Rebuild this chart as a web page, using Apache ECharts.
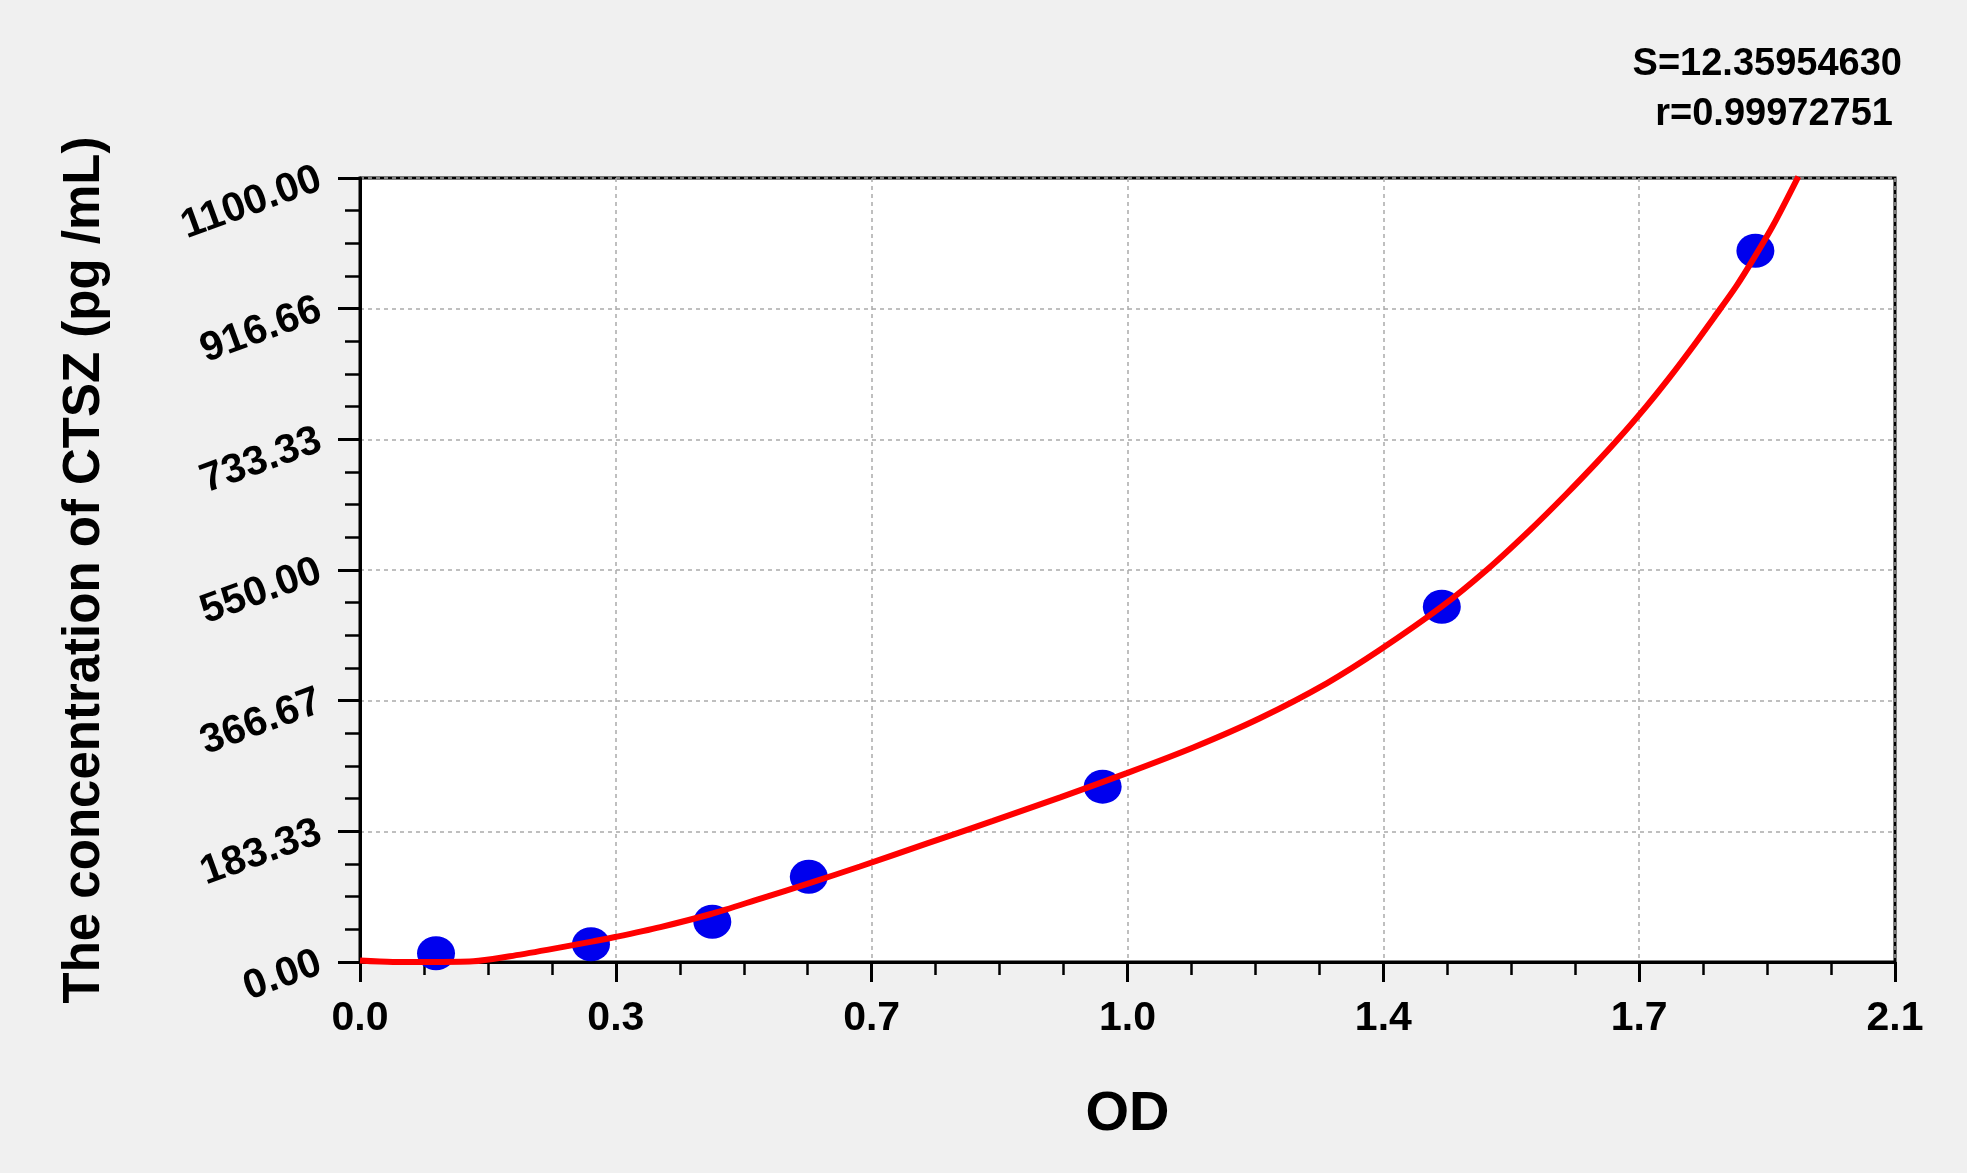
<!DOCTYPE html>
<html>
<head>
<meta charset="utf-8">
<script src="https://cdn.jsdelivr.net/npm/echarts@6/dist/echarts.min.js"></script>
<style>
html,body{margin:0;padding:0;background:#f0f0f0;}
#chart{width:1967px;height:1173px;}
</style>
</head>
<body>
<div id="chart"></div>
<script>
// Standard points (OD, concentration)
const pointOD   = [0.104, 0.316, 0.482, 0.614, 1.016, 1.480, 1.909];
const pointConc = [12.2, 24.8, 56.5, 119.7, 246, 498.5, 998];

// Fitted curve
const curveOD   = [0, 0.045, 0.092, 0.155, 0.205, 0.256, 0.319, 0.349, 0.411, 0.479, 0.548, 0.616, 0.684, 0.775, 0.866, 0.958, 1.049, 1.140, 1.231, 1.3225, 1.3955, 1.4797, 1.5413, 1.6006, 1.6508, 1.692, 1.7206, 1.7601, 1.7922, 1.8196, 1.8515, 1.8834, 1.9084, 1.9335, 1.9677];
const curveConc = [2, 0, 0, 1, 8, 17, 29, 35, 49, 67, 89, 111, 134, 166, 198, 231, 265, 301, 342, 391, 438, 498.5, 550, 606, 657, 701, 733, 780, 821, 858, 903, 949, 990, 1034, 1102];

// Tick labels
const xTickLabels = ["0.0", "0.3", "0.7", "1.0", "1.4", "1.7", "2.1"];
const yTickLabels = ["0.00", "183.33", "366.67", "550.00", "733.33", "916.66", "1100.00"];

const statS = "S=12.35954630";
const statR = "r=0.99972751";

const xInterval = 0.35, yInterval = 1100 / 6;

const chart = echarts.init(document.getElementById('chart'));
const font = "'Liberation Sans', Arial, sans-serif";

chart.setOption({
  backgroundColor: '#f0f0f0',
  animation: false,
  grid: {
    left: 360, right: 72, top: 178, bottom: 211,
    show: true, backgroundColor: '#ffffff', borderColor: '#000', borderWidth: 3
  },
  xAxis: {
    type: 'value', min: 0, max: 2.1, interval: xInterval,
    name: 'OD', nameLocation: 'middle', nameGap: 125,
    nameTextStyle: { fontFamily: font, fontWeight: 'bold', fontSize: 56, color: '#000' },
    axisLine: { show: true, onZero: false, lineStyle: { color: '#000', width: 3 } },
    axisTick: { show: true, inside: false, length: 20, lineStyle: { color: '#000', width: 3 } },
    minorTick: { show: true, splitNumber: 4, length: 13, lineStyle: { color: '#000', width: 2.5 } },
    splitLine: { show: true, lineStyle: { color: '#aaaaaa', type: [4, 4], width: 1.5 } },
    axisLabel: {
      margin: 36, fontFamily: font, fontWeight: 'bold', fontSize: 41, color: '#000',
      formatter: v => xTickLabels[Math.round(v / xInterval)] ?? ''
    }
  },
  yAxis: {
    type: 'value', min: 0, max: 1100, interval: yInterval,
    name: 'The concentration of CTSZ (pg /mL)', nameLocation: 'middle', nameGap: 250,
    nameTextStyle: { fontFamily: font, fontWeight: 'bold', fontSize: 51, color: '#000' },
    axisLine: { show: true, onZero: false, lineStyle: { color: '#000', width: 3 } },
    axisTick: { show: true, inside: false, length: 22, lineStyle: { color: '#000', width: 3 } },
    minorTick: { show: true, splitNumber: 4, length: 15, lineStyle: { color: '#000', width: 2.5 } },
    splitLine: { show: true, lineStyle: { color: '#aaaaaa', type: [4, 4], width: 1.5 } },
    axisLabel: {
      margin: 40, rotate: 20, fontFamily: font, fontWeight: 'bold', fontSize: 41, color: '#000',
      formatter: v => yTickLabels[Math.round(v / yInterval)] ?? ''
    }
  },
  graphic: [
    { type: 'text', right: 65, top: 46, style: { text: statS, font: "bold 38px " + font, fill: '#000' } },
    { type: 'text', right: 74, top: 96, style: { text: statR, font: "bold 38px " + font, fill: '#000' } }
  ],
  series: [
    {
      type: 'scatter', z: 2,
      data: pointOD.map((x, i) => [x, pointConc[i]]),
      symbol: 'circle', symbolSize: [38, 34],
      itemStyle: { color: '#0000ee', opacity: 1 }
    },
    {
      type: 'line', z: 3, clip: true,
      data: curveOD.map((x, i) => [x, curveConc[i]]),
      showSymbol: false, smooth: 0.3,
      lineStyle: { color: '#ff0000', width: 6 }
    }
  ]
});
</script>
</body>
</html>
